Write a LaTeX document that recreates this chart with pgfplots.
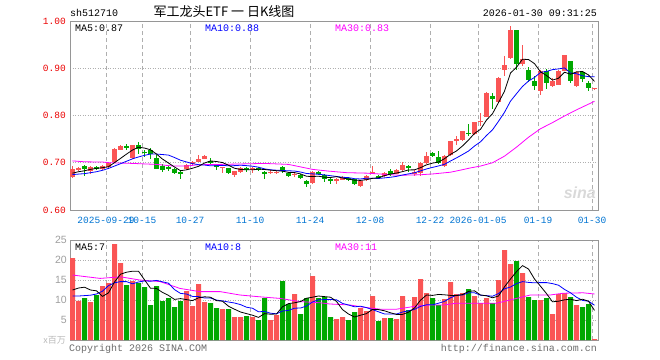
\documentclass[border=0pt]{standalone}
\usepackage{pgfplots}
\pgfplotsset{compat=1.18}
\usepackage{pgfplotstable}
\usepackage{fontspec}
\setmainfont{Liberation Mono}
\newfontfamily\cjk{Noto Sans CJK SC}
\newfontfamily\sansf{Liberation Sans}
\definecolor{upc}{RGB}{250,85,85}
\definecolor{dnc}{RGB}{0,168,0}
\definecolor{tickred}{RGB}{235,0,0}
\definecolor{dateblue}{RGB}{0,116,210}
\definecolor{gridc}{RGB}{175,175,175}
\definecolor{framec}{RGB}{150,150,150}
\definecolor{mablue}{RGB}{0,0,255}
\definecolor{mamag}{RGB}{255,0,255}

\pgfplotstableread{
i bot top lo hi vol
0 0.669 0.686 0.667 0.694 20.5
1 0.685 0.689 0.683 0.691 9.8
3 0.683 0.691 0.677 0.693 9.5
5 0.686 0.694 0.684 0.696 13.5
6 0.691 0.699 0.689 0.701 14.25
7 0.701 0.730 0.699 0.732 24
8 0.728 0.736 0.726 0.737 19.25
10 0.711 0.737 0.709 0.738 14.75
19 0.686 0.696 0.684 0.697 12.25
20 0.697 0.701 0.695 0.703 8.5
21 0.702 0.707 0.701 0.716 14
22 0.709 0.714 0.708 0.716 9.5
25 0.689 0.691 0.678 0.692 7.75
27 0.674 0.682 0.670 0.683 5.75
28 0.680 0.688 0.679 0.692 5.75
30 0.686 0.689 0.679 0.690 5.75
33 0.678 0.681 0.676 0.684 5
34 0.679 0.681 0.677 0.683 6.25
37 0.674 0.677 0.669 0.680 11.5
40 0.658 0.681 0.655 0.682 16
44 0.661 0.665 0.656 0.667 5.25
45 0.665 0.667 0.663 0.671 5.75
48 0.651 0.661 0.648 0.663 8
49 0.663 0.673 0.661 0.675 7.25
50 0.677 0.681 0.676 0.693 11
52 0.672 0.679 0.670 0.680 5.5
54 0.677 0.684 0.676 0.686 5.25
55 0.684 0.696 0.683 0.701 11
57 0.676 0.680 0.672 0.685 10.75
58 0.679 0.700 0.672 0.701 15.25
59 0.699 0.714 0.698 0.723 11.75
62 0.693 0.715 0.690 0.717 10.25
63 0.716 0.746 0.715 0.747 14.5
64 0.746 0.750 0.738 0.757 11.5
65 0.748 0.767 0.746 0.768 11.75
67 0.760 0.786 0.758 0.787 11
68 0.787 0.789 0.778 0.805 9.25
69 0.797 0.848 0.796 0.849 10.5
71 0.828 0.880 0.826 0.881 15
72 0.896 0.906 0.884 0.925 22.5
73 0.922 0.982 0.920 0.989 19
75 0.908 0.920 0.905 0.950 16.75
78 0.852 0.895 0.843 0.896 10
80 0.862 0.872 0.861 0.880 6.5
81 0.865 0.895 0.864 0.896 11.5
82 0.895 0.927 0.894 0.929 11.75
84 0.862 0.893 0.860 0.894 8.75
87 0.857 0.859 0.853 0.859 0.25
}\uptab

\pgfplotstableread{
i bot top lo hi vol
2 0.687 0.693 0.672 0.696 10.5
4 0.687 0.692 0.685 0.694 11.2
9 0.7325 0.7345 0.726 0.740 13.75
11 0.729 0.737 0.719 0.744 14.25
12 0.721 0.723 0.712 0.726 13.25
13 0.718 0.728 0.708 0.731 8.75
14 0.687 0.711 0.686 0.716 13.5
15 0.684 0.693 0.681 0.697 9.75
16 0.687 0.692 0.683 0.694 10.5
17 0.679 0.687 0.677 0.689 8.25
18 0.678 0.680 0.665 0.683 9.75
23 0.701 0.704 0.697 0.711 9.25
24 0.690 0.697 0.685 0.698 8
26 0.679 0.688 0.677 0.689 7.75
29 0.686 0.688 0.680 0.690 6
31 0.686 0.688 0.683 0.690 5
32 0.678 0.680 0.665 0.682 10.5
35 0.684 0.690 0.679 0.693 14.75
36 0.673 0.679 0.670 0.680 9
38 0.667 0.674 0.665 0.676 6.5
39 0.656 0.662 0.649 0.664 10.5
41 0.677 0.681 0.674 0.682 10.5
42 0.666 0.674 0.660 0.677 10.75
43 0.663 0.665 0.656 0.670 5.75
46 0.665 0.668 0.661 0.670 5
47 0.655 0.665 0.652 0.666 7
51 0.669 0.671 0.667 0.675 4.75
53 0.677 0.682 0.673 0.687 5.5
56 0.688 0.694 0.680 0.695 7.5
60 0.714 0.721 0.712 0.723 10.5
61 0.700 0.713 0.698 0.725 8.75
66 0.762 0.764 0.756 0.781 12.75
70 0.834 0.842 0.814 0.847 9.25
74 0.908 0.980 0.897 0.981 19.75
76 0.876 0.897 0.870 0.902 10.75
77 0.863 0.874 0.855 0.883 10
79 0.869 0.895 0.857 0.899 10.5
83 0.874 0.915 0.869 0.916 10.75
85 0.877 0.892 0.870 0.895 8.25
86 0.858 0.868 0.852 0.872 9
}\dntab

\pgfplotsset{
  kaxis/.style={
    scale only axis, width=528bp,
    xmin=-0.417, xmax=87.583,
    xtick={5.583,11.583,19.583,29.583,39.583,49.583,59.583,67.583,77.583,86.583},
    major tick length=0pt,
    axis line style={framec},
    xmajorgrids, ymajorgrids,
    x grid style={gridc, line width=0.8bp, dash pattern=on 4bp off 3bp},
    y grid style={gridc, line width=0.8bp, dash pattern=on 1bp off 1.5bp},
  },
  candle/.style 2 args={draw=none, no markers, forget plot,
    error bars/.cd, y dir=both, y explicit, error mark=none,
    error bar style={line width=#1, draw=#2}},
}

\begin{document}
\begin{tikzpicture}
\path[use as bounding box] (0,0) rectangle (660bp,-360bp);

% ---------------- price panel ----------------
\begin{axis}[kaxis, at={(70bp,-210bp)}, anchor=south west, height=189bp,
  ymin=0.6, ymax=1.0,
  ytick={0.6,0.7,0.8,0.9,1.0},
  yticklabels={0.60,0.70,0.80,0.90,1.00},
  yticklabel style={font=\fontsize{9.5bp}{10bp}\selectfont, text=tickred, inner sep=0pt, xshift=-4bp},
  xticklabels={2025-09-29,10-15,10-27,11-10,11-24,12-08,12-22,2026-01-05,01-19,01-30},
  xticklabel style={font=\fontsize{9.5bp}{10bp}\selectfont, text=dateblue, inner sep=0pt, yshift=-7bp},
]
% wicks
\addplot[candle={1bp}{upc}] table[x=i, y expr={(\thisrow{hi}+\thisrow{lo})/2}, y error expr={(\thisrow{hi}-\thisrow{lo})/2}] {\uptab};
\addplot[candle={1bp}{dnc}] table[x=i, y expr={(\thisrow{hi}+\thisrow{lo})/2}, y error expr={(\thisrow{hi}-\thisrow{lo})/2}] {\dntab};
% bodies
\addplot[candle={5bp}{upc}] table[x=i, y expr={(\thisrow{top}+\thisrow{bot})/2}, y error expr={(\thisrow{top}-\thisrow{bot})/2}] {\uptab};
\addplot[candle={5bp}{dnc}] table[x=i, y expr={(\thisrow{top}+\thisrow{bot})/2}, y error expr={(\thisrow{top}-\thisrow{bot})/2}] {\dntab};
% MA30
\addplot[mamag, line width=0.8bp] coordinates {
(0,0.704)(2,0.702)(5,0.7015)(6.25,0.700)(10,0.6986)(14,0.6965)(16.8,0.693)(19,0.693)(21,0.6958)(24.6,0.6965)(32,0.6986)(36,0.6965)(40,0.686)(42.6,0.6824)(45.7,0.679)(49,0.678)(54.5,0.6735)(58,0.6746)(60.2,0.6765)(63,0.680)(64.7,0.6845)(66.3,0.689)(68,0.693)(70,0.700)(72,0.714)(74,0.733)(76,0.754)(78,0.772)(80,0.785)(82,0.799)(84,0.812)(86,0.824)(87,0.830)};
% MA10
\addplot[mablue, line width=0.8bp] coordinates {
(0,0.675)(1,0.676)(2,0.677)(3,0.679)(4,0.681)(5,0.684)(6,0.688)(7,0.693)(8,0.698)
(9,0.7032)(10,0.7083)(11,0.7123)(12,0.7157)(13,0.7184)(14,0.7184)(15,0.7174)(16,0.7162)(17,0.7111)(18,0.7054)(19,0.7017)
(20,0.6981)(21,0.6959)(22,0.6952)(23,0.6935)(24,0.6938)(25,0.6944)(26,0.6936)(27,0.6939)(28,0.6948)(29,0.6939)
(30,0.6927)(31,0.6906)(32,0.6871)(33,0.6851)(34,0.6842)(35,0.6836)(36,0.6830)(37,0.6825)(38,0.6804)(39,0.6773)
(40,0.6765)(41,0.6756)(42,0.6743)(43,0.6726)(44,0.6710)(45,0.6693)(46,0.6685)(47,0.6663)(48,0.6657)(49,0.6674)
(50,0.6674)(51,0.6667)(52,0.6680)(53,0.6693)(54,0.6712)(55,0.6741)(56,0.6764)(57,0.6789)(58,0.6828)(59,0.6869)
(60,0.6902)(61,0.6932)(62,0.6968)(63,0.7037)(64,0.7103)(65,0.7174)(66,0.7248)(67,0.7354)(68,0.7443)(69,0.7577)
(70,0.7697)(71,0.7877)(72,0.8068)(73,0.8304)(74,0.8462)(75,0.8615)(76,0.8729)(77,0.8806)(78,0.8912)(79,0.8933)
(80,0.8971)(81,0.8986)(82,0.9007)(83,0.8899)(84,0.8884)(85,0.8841)(86,0.8823)(87,0.8819)};
% MA5
\addplot[black, line width=0.8bp] coordinates {
(0,0.678)(1,0.681)(2,0.683)(3,0.686)(4,0.688)(5,0.6896)(6,0.6916)(7,0.7002)(8,0.7092)(9,0.7183)
(10,0.7269)(11,0.7329)(12,0.7311)(13,0.7275)(14,0.7184)(15,0.7078)(16,0.6994)(17,0.6910)(18,0.6832)(19,0.6850)
(20,0.6884)(21,0.6924)(22,0.6994)(23,0.7038)(24,0.7026)(25,0.7004)(26,0.6948)(27,0.6884)(28,0.6858)(29,0.6852)
(30,0.6850)(31,0.6864)(32,0.6858)(33,0.6844)(34,0.6832)(35,0.6822)(36,0.6796)(37,0.6792)(38,0.6764)(39,0.6714)
(40,0.6708)(41,0.6716)(42,0.6694)(43,0.6688)(44,0.6706)(45,0.6678)(46,0.6654)(47,0.6632)(48,0.6626)(49,0.6642)
(50,0.6670)(51,0.6680)(52,0.6728)(53,0.6760)(54,0.6782)(55,0.6812)(56,0.6848)(57,0.6850)(58,0.6896)(59,0.6956)
(60,0.6992)(61,0.7016)(62,0.7086)(63,0.7178)(64,0.7250)(65,0.7356)(66,0.7480)(67,0.7622)(68,0.7708)(69,0.7904)
(70,0.8038)(71,0.8274)(72,0.8514)(73,0.8900)(74,0.9020)(75,0.9192)(76,0.9184)(77,0.9098)(78,0.8924)(79,0.8846)
(80,0.8750)(81,0.8788)(82,0.8916)(83,0.8874)(84,0.8922)(85,0.8932)(86,0.8858)(87,0.8722)};
\end{axis}

% ---------------- volume panel ----------------
\begin{axis}[kaxis, at={(70bp,-340bp)}, anchor=south west, height=100bp,
  ymin=0, ymax=25,
  ytick={5,10,15,20,25},
  yticklabel style={font=\sansf\fontsize{10.5bp}{11bp}\selectfont, text=gray!75, inner sep=0pt, xshift=-3bp},
  /pgf/number format/assume math mode=true,
  xticklabels={},
]
\addplot[ybar, bar width=5bp, bar shift=0pt, fill=upc, draw=none, forget plot] table[x=i, y=vol] {\uptab};
\addplot[ybar, bar width=5bp, bar shift=0pt, fill=dnc, draw=none, forget plot] table[x=i, y=vol] {\dntab};
% MA30
\addplot[mamag, line width=0.8bp] coordinates {
(0,16.25)(2.4,15.8)(4.6,15.4)(8,15.8)(11.2,15)(14.6,14.6)(17.9,12.9)(21.2,12.1)(24.6,12.1)(27.9,11.25)(31.2,10.8)(34.6,10.4)(37.9,9.6)(41.3,9.3)(42.9,9.0)(46.3,8.75)(48.5,8.2)(51.3,7.7)(54,7.7)(57.4,8.5)(59.6,8.75)(61.8,8.75)(64,9.2)(66.3,9.2)(70.7,9.2)(72.9,10)(75.1,10.8)(76.3,11.25)(79.6,11.25)(81.8,11.7)(85.1,11.8)(87,11.5)};
% MA10
\addplot[mablue, line width=0.8bp] coordinates {
(0,11)(1,11)(2,11.1)(3,11.2)(4,11.5)(5,12.2)(6,13.6)(7,14.3)(8,14.6)
(9,14.6)(10,14.05)(11,14.5)(12,14.77)(13,14.7)(14,14.9)(15,14.55)(16,14.2)(17,12.6)(18,11.65)(19,11.5)
(20,10.9)(21,10.85)(22,10.5)(23,10.5)(24,9.98)(25,9.78)(26,9.5)(27,9.25)(28,8.85)(29,8.2)
(30,7.95)(31,7.05)(32,7.15)(33,6.7)(34,6.55)(35,7.25)(36,7.4)(37,7.95)(38,8.0)(39,8.5)
(40,9.5)(41,10.05)(42,10.1)(43,10.15)(44,10.05)(45,9.15)(46,8.75)(47,8.3)(48,8.45)(49,8.1)
(50,7.6)(51,7.05)(52,6.5)(53,6.5)(54,6.5)(55,7.0)(56,7.3)(57,7.65)(58,8.4)(59,8.8)
(60,8.8)(61,9.2)(62,9.65)(63,10.55)(64,11.2)(65,11.25)(66,11.8)(67,11.8)(68,11.2)(69,11.1)
(70,10.95)(71,11.6)(72,12.8)(73,13.25)(74,14.1)(75,14.6)(76,14.4)(77,14.3)(78,14.35)(79,14.35)
(80,14.1)(81,13.7)(82,12.65)(83,11.8)(84,10.7)(85,9.9)(86,9.7)(87,8.7)};
% MA5
\addplot[black, line width=0.8bp] coordinates {
(0,12.5)(1,13)(2,13.2)(3,12.5)(4,12.3)(5,10.9)(6,11.79)(7,14.49)(8,16.44)(9,16.95)
(10,17.2)(11,17.2)(12,15.05)(13,12.95)(14,12.9)(15,11.9)(16,11.15)(17,10.15)(18,10.35)(19,10.1)
(20,9.85)(21,10.55)(22,10.8)(23,10.7)(24,9.85)(25,9.7)(26,8.45)(27,7.7)(28,7.0)(29,6.6)
(30,6.2)(31,5.65)(32,6.6)(33,6.45)(34,6.5)(35,8.3)(36,9.1)(37,9.3)(38,9.6)(39,10.45)
(40,10.7)(41,11.0)(42,10.85)(43,10.7)(44,9.65)(45,7.6)(46,6.5)(47,5.75)(48,6.2)(49,6.6)
(50,7.65)(51,7.6)(52,7.3)(53,6.8)(54,6.4)(55,6.4)(56,6.95)(57,8.0)(58,9.95)(59,11.25)
(60,11.15)(61,11.4)(62,11.3)(63,11.15)(64,11.1)(65,11.35)(66,12.15)(67,12.3)(68,11.25)(69,11.05)
(70,10.55)(71,11.0)(72,13.3)(73,15.25)(74,17.1)(75,18.6)(76,17.75)(77,15.25)(78,13.45)(79,11.6)
(80,9.55)(81,9.7)(82,10.05)(83,10.2)(84,9.85)(85,10.2)(86,9.7)(87,7.4)};
\end{axis}

% ---------------- texts ----------------
\node[anchor=west, inner sep=0pt, font=\fontsize{10bp}{11bp}\selectfont] at (70bp,-13bp) {sh512710};
\node[inner sep=0pt, font=\cjk\fontsize{13bp}{14bp}\selectfont] at (224bp,-12bp) {军工龙头ETF\ 一\ 日K线图};
\node[anchor=east, inner sep=0pt, font=\fontsize{10bp}{11bp}\selectfont] at (597bp,-13bp) {2026-01-30 09:31:25};
\node[anchor=west, inner sep=0pt, font=\fontsize{10bp}{11bp}\selectfont] at (75bp,-28bp) {MA5:0.87};
\node[anchor=west, inner sep=0pt, font=\fontsize{10bp}{11bp}\selectfont, text=mablue] at (205bp,-28bp) {MA10:0.88};
\node[anchor=west, inner sep=0pt, font=\fontsize{10bp}{11bp}\selectfont, text=mamag] at (335bp,-28bp) {MA30:0.83};
\node[anchor=west, inner sep=0pt, font=\fontsize{10bp}{11bp}\selectfont] at (75bp,-247bp) {MA5:7};
\node[anchor=west, inner sep=0pt, font=\fontsize{10bp}{11bp}\selectfont, text=mablue] at (205bp,-247bp) {MA10:8};
\node[anchor=west, inner sep=0pt, font=\fontsize{10bp}{11bp}\selectfont, text=mamag] at (335bp,-247bp) {MA30:11};
\node[anchor=east, inner sep=0pt, font=\cjk\fontsize{9bp}{10bp}\selectfont, text=gray!55] at (66bp,-340bp) {x百万};
\node[anchor=west, inner sep=0pt, font=\fontsize{10bp}{11bp}\selectfont, text=gray!85!black] at (69bp,-349bp) {Copyright 2026 SINA.COM};
\node[anchor=east, inner sep=0pt, font=\fontsize{10bp}{11bp}\selectfont, text=gray!85!black] at (597bp,-349bp) {http://finance.sina.com.cn};
\node[anchor=east, inner sep=0pt, font=\sansf\bfseries\itshape\fontsize{16bp}{16bp}\selectfont, text=gray!30] at (596bp,-193bp) {sina};
\end{tikzpicture}
\end{document}
